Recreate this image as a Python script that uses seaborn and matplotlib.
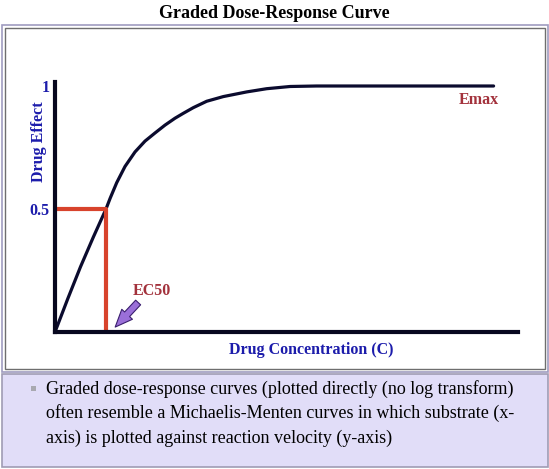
import matplotlib.pyplot as plt
import seaborn as sns
import pandas as pd
from matplotlib.patches import Rectangle

# curve (concentration in EC50 units, effect as fraction of Emax)
conc = [0, 0.25, 0.5, 0.75, 1.0, 1.08, 1.21, 1.373, 1.569, 1.765, 1.961, 2.157, 2.353,
        2.516, 2.712, 2.975, 3.30, 3.76, 4.15, 4.61, 5.13, 8.6]
effect = [0, 0.135, 0.265, 0.385, 0.5, 0.543, 0.607, 0.673, 0.732, 0.776, 0.809, 0.841, 0.869,
          0.889, 0.912, 0.938, 0.957, 0.976, 0.989, 0.998, 1.0, 1.0]

ec50 = 1.0
half = 0.5
ytick_vals = [0.5, 1]
ytick_labels = ['0.5', '1']

note_lines = [
    'Graded dose-response curves (plotted directly (no log transform)',
    'often resemble a Michaelis-Menten curves in which substrate (x-',
    'axis) is plotted against reaction velocity (y-axis)',
]

W, H = 549, 469
fx = lambda px: px / W
fy = lambda py: 1 - py / H

sns.set_style('white')
plt.rcParams['font.family'] = ['Liberation Serif', 'DejaVu Serif']

blue = '#1c1cab'
crimson = '#a3323c'

fig = plt.figure(figsize=(W / 100, H / 100), dpi=100)

# frames around the plot and the note
fig.patches.append(Rectangle((fx(2), fy(372)), fx(546), 347 / H, transform=fig.transFigure,
                             fill=False, ec='#a09cc0', lw=1.2))
fig.patches.append(Rectangle((fx(5), fy(369)), fx(540), 341 / H, transform=fig.transFigure,
                             fill=False, ec='#6e6e6e', lw=1.0))
fig.patches.append(Rectangle((fx(2), fy(467)), fx(546), 93 / H, transform=fig.transFigure,
                             fc='#e1ddf8', ec='#a09cb4', lw=1.2))
fig.patches.append(Rectangle((fx(31), fy(391)), fx(5), 5 / H, transform=fig.transFigure,
                             fc='#a8a8b0', ec='none'))

ax = fig.add_axes([fx(55), fy(332), (518 - 55) / W, (332 - 82) / H])
ax.set_xlim(0, 463 / 51)
ax.set_ylim(0, 250 / 246)
ax.patch.set_alpha(0)

df = pd.DataFrame({'conc': conc, 'effect': effect})
sns.lineplot(data=df, x='conc', y='effect', color='#0b0b2e', lw=2.3,
             estimator=None, sort=False, ax=ax)
sns.lineplot(x=[0, ec50, ec50], y=[half, half, 0], color='#d8432c', lw=3.0,
             estimator=None, sort=False, ax=ax)

for s in ['top', 'right']:
    ax.spines[s].set_visible(False)
for s in ['left', 'bottom']:
    ax.spines[s].set_color('#07071f')
    ax.spines[s].set_linewidth(3.0)
    ax.spines[s].set_capstyle('projecting')

ax.set_xticks([])
ax.set_yticks(ytick_vals)
ax.set_yticklabels(ytick_labels, color=blue, fontweight='bold', fontsize=11.5)
ax.tick_params(axis='y', length=0, pad=4)
ax.set_xlabel('')
ax.set_ylabel('')

ax.annotate('', xy=(1.18, 0.02), xytext=(1.63, 0.12),
            arrowprops=dict(arrowstyle='simple,head_width=0.75,head_length=0.9,tail_width=0.35',
                            mutation_scale=14, fc='#9a6fd8', ec='#3a1f6e', lw=0.8,
                            shrinkA=0, shrinkB=0))

fig.text(0.5, fy(14), 'Graded Dose-Response Curve', ha='center', va='center',
         fontsize=13, fontweight='bold', color='black')
fig.text(fx(39), fy(142), 'Drug Effect', rotation=90, ha='center', va='center',
         fontsize=11.5, fontweight='bold', color=blue)
fig.text(fx(311), fy(350), 'Drug Concentration (C)', ha='center', va='center',
         fontsize=11.5, fontweight='bold', color=blue)
fig.text(fx(479), fy(100), 'Emax', ha='center', va='center',
         fontsize=11.5, fontweight='bold', color=crimson)
fig.text(fx(152), fy(291), 'EC50', ha='center', va='center',
         fontsize=11.5, fontweight='bold', color=crimson)

for i, line in enumerate(note_lines):
    fig.text(fx(46), fy(389 + 24.5 * i), line, ha='left', va='center',
             fontsize=13, color='black')

fig.savefig('out.png', dpi=100)
